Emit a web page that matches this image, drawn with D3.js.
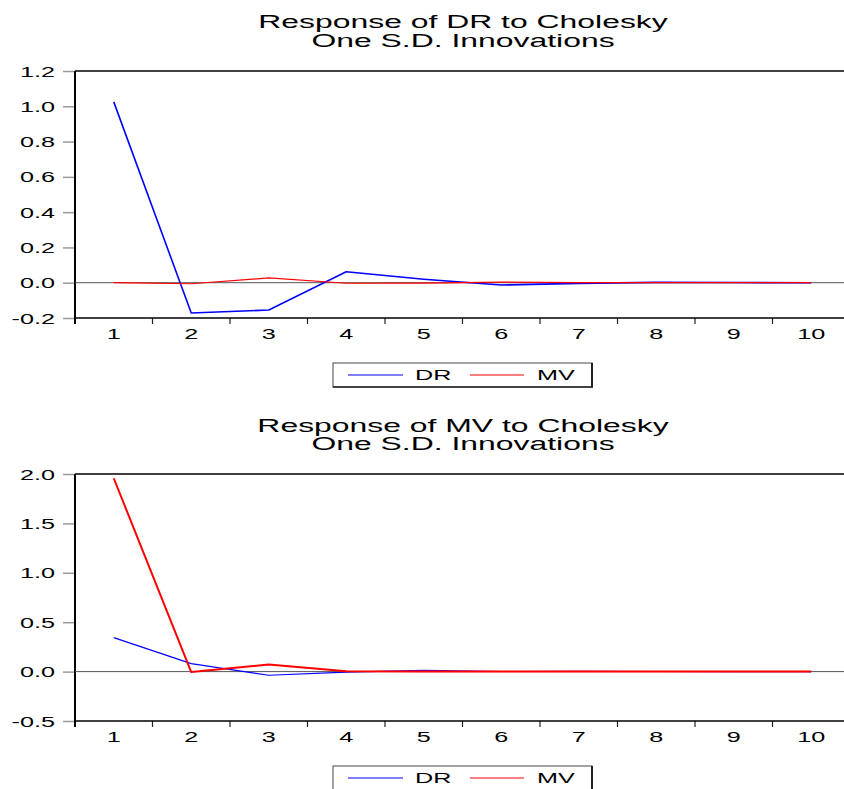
<!DOCTYPE html>
<html>
<head>
<meta charset="utf-8">
<script src="https://cdn.jsdelivr.net/npm/d3@7"></script>
<style>
  html, body { margin: 0; padding: 0; background: #fff; }
  svg { display: block; }
  text { font-family: "Liberation Sans", Arial, sans-serif; fill: #000; }
</style>
</head>
<body>
<svg id="chart" width="844" height="789"></svg>
<script>
// ---- data ----
const periods = [1, 2, 3, 4, 5, 6, 7, 8, 9, 10];
const seriesNames = ["DR", "MV"];
const seriesColors = ["#0000ff", "#ff0000"];

// Response of DR
const drRespDR = [1.025, -0.172, -0.155, 0.062, 0.020, -0.013, -0.004, 0.002, 0.001, 0.000];
const drRespMV = [0.000, -0.006, 0.027, -0.003, -0.002, 0.003, 0.001, 0.001, 0.000, 0.000];
// Response of MV
const mvRespDR = [0.344, 0.081, -0.037, -0.005, 0.012, 0.001, 0.002, 0.001, 0.000, 0.000];
const mvRespMV = [1.957, -0.005, 0.071, 0.004, 0.000, 0.001, 0.000, 0.000, 0.000, 0.000];

const yTicksTop = [-0.2, 0.0, 0.2, 0.4, 0.6, 0.8, 1.0, 1.2];
const yTicksBottom = [-0.5, 0.0, 0.5, 1.0, 1.5, 2.0];

const titlesTop = ["Response of DR to Cholesky", "One S.D. Innovations"];
const titlesBottom = ["Response of MV to Cholesky", "One S.D. Innovations"];

// ---- drawing ----
const svg = d3.select("#chart");
const SX = 1.8;          // horizontal stretch of the lettering
const X0 = 75, X1 = 850;

const x = d3.scaleBand().domain(periods).range([X0, X1]);
const xc = d => x(d) + x.bandwidth() / 2;

function panel(cfg) {
  const g = svg.append("g");
  const y = d3.scaleLinear().domain(cfg.domain).range([cfg.bottom, cfg.top]);

  // title
  cfg.titles.forEach((t, i) => {
    g.append("text")
      .attr("transform", `translate(463,${cfg.titleY[i]}) scale(${SX * 0.985},1)`)
      .attr("text-anchor", "middle")
      .style("font-size", "18px")
      .text(t);
  });

  // y axis
  const yAxis = d3.axisLeft(y).tickValues(cfg.yTicks).tickSize(12).tickFormat(d => d.toFixed(1));
  const ya = g.append("g").attr("transform", `translate(${X0},0)`).call(yAxis);
  ya.select(".domain").remove();
  ya.selectAll(".tick line").attr("stroke", "#999").attr("stroke-width", 1.5);
  ya.selectAll(".tick text")
    .attr("x", null).attr("dy", null)
    .attr("transform", `translate(-20,5) scale(${SX},1)`)
    .attr("text-anchor", "end")
    .style("font-size", "14px")
    .attr("fill", "#111");

  // x axis labels (band centres)
  const xAxis = d3.axisBottom(x).tickSize(0).tickFormat(d => String(d));
  const xa = g.append("g").attr("transform", `translate(0,${cfg.bottom})`).call(xAxis);
  xa.select(".domain").remove();
  xa.selectAll(".tick text")
    .attr("y", null).attr("dy", null)
    .attr("transform", `translate(0,${cfg.xLabelY - cfg.bottom}) scale(${SX},1)`)
    .style("font-size", "14px")
    .attr("fill", "#111");

  // x tick marks at band boundaries
  const bounds = periods.map(d => x(d)).concat([X1]);
  g.selectAll("line.xt").data(bounds).join("line")
    .attr("x1", d => d).attr("x2", d => d)
    .attr("y1", cfg.bottom).attr("y2", cfg.bottom + 6)
    .attr("stroke", "#222").attr("stroke-width", 1.2);

  // frame
  g.append("line").attr("x1", X0).attr("x2", X1).attr("y1", cfg.top).attr("y2", cfg.top)
    .attr("stroke", "#000").attr("stroke-width", 1.3);
  g.append("line").attr("x1", X0).attr("x2", X1).attr("y1", cfg.bottom).attr("y2", cfg.bottom)
    .attr("stroke", "#000").attr("stroke-width", 1.5);
  g.append("line").attr("x1", X0).attr("x2", X0).attr("y1", cfg.top).attr("y2", cfg.bottom + 6)
    .attr("stroke", "#000").attr("stroke-width", 2);

  // zero line
  g.append("line").attr("x1", X0).attr("x2", X1).attr("y1", y(0)).attr("y2", y(0))
    .attr("stroke", "#555").attr("stroke-width", 1);

  // series
  const line = d3.line().x((d, i) => xc(periods[i])).y(d => y(d));
  const series = [cfg.dr, cfg.mv];
  series.forEach((vals, i) => {
    g.append("path").datum(vals)
      .attr("fill", "none")
      .attr("stroke", seriesColors[i])
      .attr("stroke-width", cfg.widths[i])
      .attr("stroke-linejoin", "round")
      .attr("d", line);
  });

  // legend
  const L = g.append("g");
  const ly = cfg.legendTop;
  L.append("rect").attr("x", 333).attr("y", ly).attr("width", 259).attr("height", 24)
    .attr("fill", "#fff").attr("stroke", "#666").attr("stroke-width", 1.2);
  L.append("line").attr("x1", 592).attr("x2", 592).attr("y1", ly).attr("y2", ly + 24)
    .attr("stroke", "#222").attr("stroke-width", 2);
  L.append("line").attr("x1", 333).attr("x2", 593).attr("y1", ly + 24).attr("y2", ly + 24)
    .attr("stroke", "#222").attr("stroke-width", 1.5);
  const items = [{x1: 348, x2: 403, tx: 415}, {x1: 470, x2: 524, tx: 537}];
  items.forEach((it, i) => {
    L.append("line").attr("x1", it.x1).attr("x2", it.x2).attr("y1", ly + 12).attr("y2", ly + 12)
      .attr("stroke", seriesColors[i]).attr("stroke-width", 1.2);
    L.append("text")
      .attr("transform", `translate(${it.tx},${ly + 17}) scale(${SX},1)`)
      .style("font-size", "14px")
      .text(seriesNames[i]);
  });
}

panel({
  titles: titlesTop, titleY: [28, 47],
  top: 71, bottom: 318, domain: [-0.2, 1.2], yTicks: yTicksTop,
  xLabelY: 339, dr: drRespDR, mv: drRespMV, widths: [1.6, 1.2], legendTop: 363
});
panel({
  titles: titlesBottom, titleY: [432, 450],
  top: 474, bottom: 721, domain: [-0.5, 2.0], yTicks: yTicksBottom,
  xLabelY: 742, dr: mvRespDR, mv: mvRespMV, widths: [1.2, 2], legendTop: 766
});
</script>
</body>
</html>
